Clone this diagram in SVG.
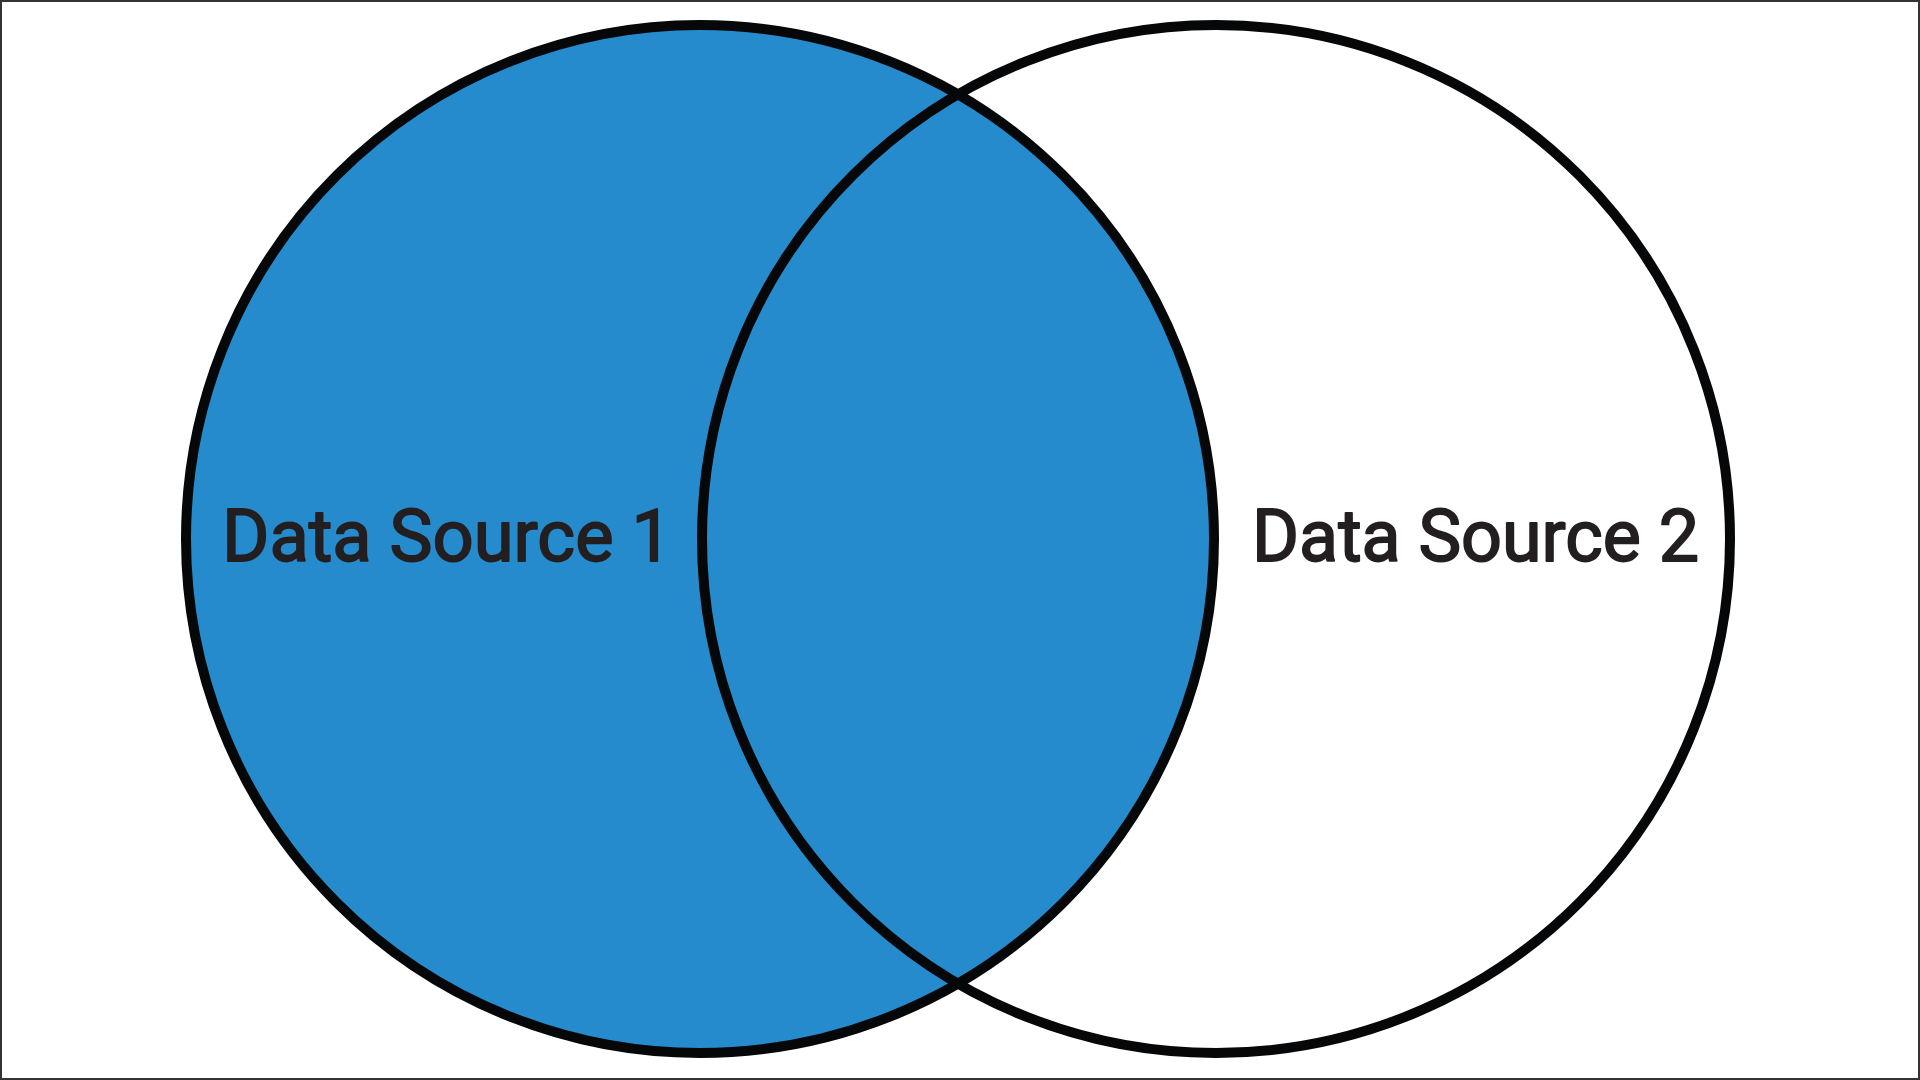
<svg xmlns="http://www.w3.org/2000/svg" width="1920" height="1080" viewBox="0 0 1920 1080">
<style>
.ring{stroke:#050708;stroke-width:10;}
.lbl{font-family:Roboto,"Liberation Sans",sans-serif;font-size:72px;font-weight:normal;fill:#231F20;stroke:#231F20;stroke-width:1.8;stroke-linejoin:round;}
</style>
<rect x="1" y="1" width="1918" height="1078" fill="#ffffff" stroke="#333333" stroke-width="2"/>
<g id="source1">
<circle cx="700" cy="539" r="514" fill="#268BCC" class="ring"/>
</g>
<g id="source2">
<circle cx="1216" cy="539" r="514" fill="none" class="ring"/>
</g>
<g id="labels">
<text class="lbl" x="222" y="561" textLength="450" lengthAdjust="spacingAndGlyphs">Data Source 1</text>
<text class="lbl" x="1252" y="561" textLength="447" lengthAdjust="spacingAndGlyphs">Data Source 2</text>
</g>
</svg>
